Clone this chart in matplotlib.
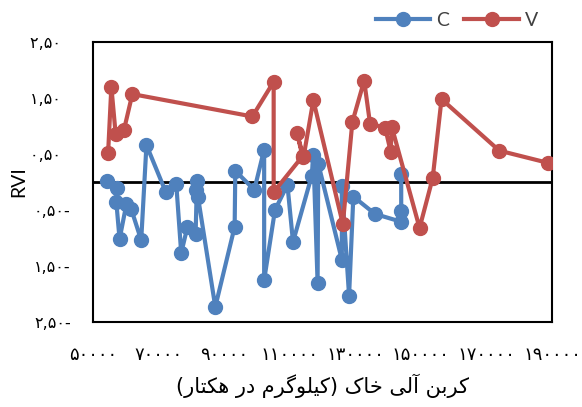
import numpy as np
import matplotlib
matplotlib.use("Agg")
import matplotlib.pyplot as plt

# series C (blue), in drawing order
c_x = [54300, 57300, 57100, 58100, 60200, 61700, 64700, 66300, 72200, 75400,
       76900, 78800, 81300, 81700, 81500, 82000, 87300, 93200, 93400, 99200,
       102200, 102200, 105500, 109300, 111000, 116700, 117200, 118500, 118700,
       125900, 125900, 128100, 129400, 136000, 144000, 144000, 144000]
c_y = [0.02, -0.10, -0.35, -1.02, -0.39, -0.49, -1.04, 0.66, -0.18, -0.04,
       -1.27, -0.80, -0.92, 0.01, -0.14, -0.26, -2.23, -0.80, 0.20, -0.14,
       0.58, -1.75, -0.50, -0.05, -1.07, 0.11, 0.49, -1.80, 0.33,
       -1.39, -0.07, -2.03, -0.26, -0.57, -0.71, -0.52, 0.14]

# series V (red)
v_x = [54600, 55600, 56900, 59400, 62000, 98600, 105100, 105100, 113900, 112200,
       114200, 117200, 126200, 129100, 132700, 134500, 139100, 140800, 141100,
       149600, 153600, 156300, 173900, 188900]
v_y = [0.51, 1.70, 0.86, 0.92, 1.57, 1.17, 1.79, -0.18, 0.46, 0.88,
       0.44, 1.46, -0.75, 1.07, 1.81, 1.04, 0.97, 0.54, 0.99,
       -0.82, 0.07, 1.48, 0.56, 0.34]

x_ticks = [50000, 70000, 90000, 110000, 130000, 150000, 170000, 190000]
y_ticks = [2.5, 1.5, 0.5, -0.5, -1.5, -2.5]
x_title = "کربن آلی خاک (کیلوگرم در هکتار)"

# no text shaping in matplotlib, so pick the presentation forms by hand
FORMS = {
    "ا": ("\uFE8D", "\uFE8E"), "آ": ("\uFE81", "\uFE82"),
    "د": ("\uFEA9", "\uFEAA"), "ر": ("\uFEAD", "\uFEAE"),
    "و": ("\uFEED", "\uFEEE"),
    "ب": ("\uFE8F", "\uFE90", "\uFE91", "\uFE92"),
    "ت": ("\uFE95", "\uFE96", "\uFE97", "\uFE98"),
    "خ": ("\uFEA5", "\uFEA6", "\uFEA7", "\uFEA8"),
    "ل": ("\uFEDD", "\uFEDE", "\uFEDF", "\uFEE0"),
    "م": ("\uFEE1", "\uFEE2", "\uFEE3", "\uFEE4"),
    "ن": ("\uFEE5", "\uFEE6", "\uFEE7", "\uFEE8"),
    "ه": ("\uFEE9", "\uFEEA", "\uFEEB", "\uFEEC"),
    "ک": ("\uFB8E", "\uFB8F", "\uFB90", "\uFB91"),
    "گ": ("\uFB92", "\uFB93", "\uFB94", "\uFB95"),
    "ی": ("\uFBFC", "\uFBFD", "\uFBFE", "\uFBFF"),
}


def shape_fa(s):
    out = []
    for i, ch in enumerate(s):
        if ch not in FORMS:
            out.append(ch)
            continue
        f = FORMS[ch]
        prev = s[i - 1] if i > 0 else ""
        nxt = s[i + 1] if i < len(s) - 1 else ""
        jp = prev in FORMS and len(FORMS[prev]) == 4
        jn = len(f) == 4 and nxt in FORMS
        if jp and jn:
            out.append(f[3])
        elif jp:
            out.append(f[1])
        elif jn:
            out.append(f[2])
        else:
            out.append(f[0])
    vis = "".join(reversed(out))          # right to left
    return vis.translate(str.maketrans("()", ")("))


def fa_digits(s):
    return s.translate(str.maketrans("0123456789", "۰۱۲۳۴۵۶۷۸۹"))


def y_label(v):
    txt = fa_digits("%.2f" % abs(v)).replace(".", ",")
    return txt + ("-" if v < 0 else "  ")


blue = "#4F81BD"
red = "#C0504D"

fig = plt.figure(figsize=(5.82, 4.07), dpi=100)
ax = fig.add_axes([0.1598, 0.2088, 0.7887, 0.688])

ax.axhline(0, color="black", lw=2, zorder=1)
ax.plot(c_x, c_y, color=blue, lw=3, marker="o", ms=10, label="C", zorder=2)
ax.plot(v_x, v_y, color=red, lw=3, marker="o", ms=10, label="V", zorder=3)

ax.set_xlim(50000, 190000)
ax.set_ylim(-2.5, 2.5)
ax.set_xticks(x_ticks)
ax.set_xticklabels([fa_digits(str(t)) for t in x_ticks], fontsize=13,
                   family="DejaVu Sans")
ax.set_yticks(y_ticks)
ax.set_yticklabels([y_label(v) for v in y_ticks], fontsize=11.5,
                   family="DejaVu Sans")
ax.tick_params(axis="both", length=0)
ax.tick_params(axis="x", pad=17)
ax.tick_params(axis="y", pad=16)
for s in ax.spines.values():
    s.set_linewidth(1.5)

ax.set_xlabel(shape_fa(x_title), fontsize=15, family="DejaVu Sans", labelpad=7)
ax.set_ylabel("RVI", fontsize=14, family="Lato", labelpad=2)

ax.legend(loc="center", bbox_to_anchor=(0.785, 0.95), bbox_transform=fig.transFigure,
          ncol=2, frameon=False, handlelength=2.8, columnspacing=0.8,
          handletextpad=0.3, prop={"family": "Lato", "size": 14},
          labelcolor="#404040")

fig.savefig("out.png", dpi=100)
